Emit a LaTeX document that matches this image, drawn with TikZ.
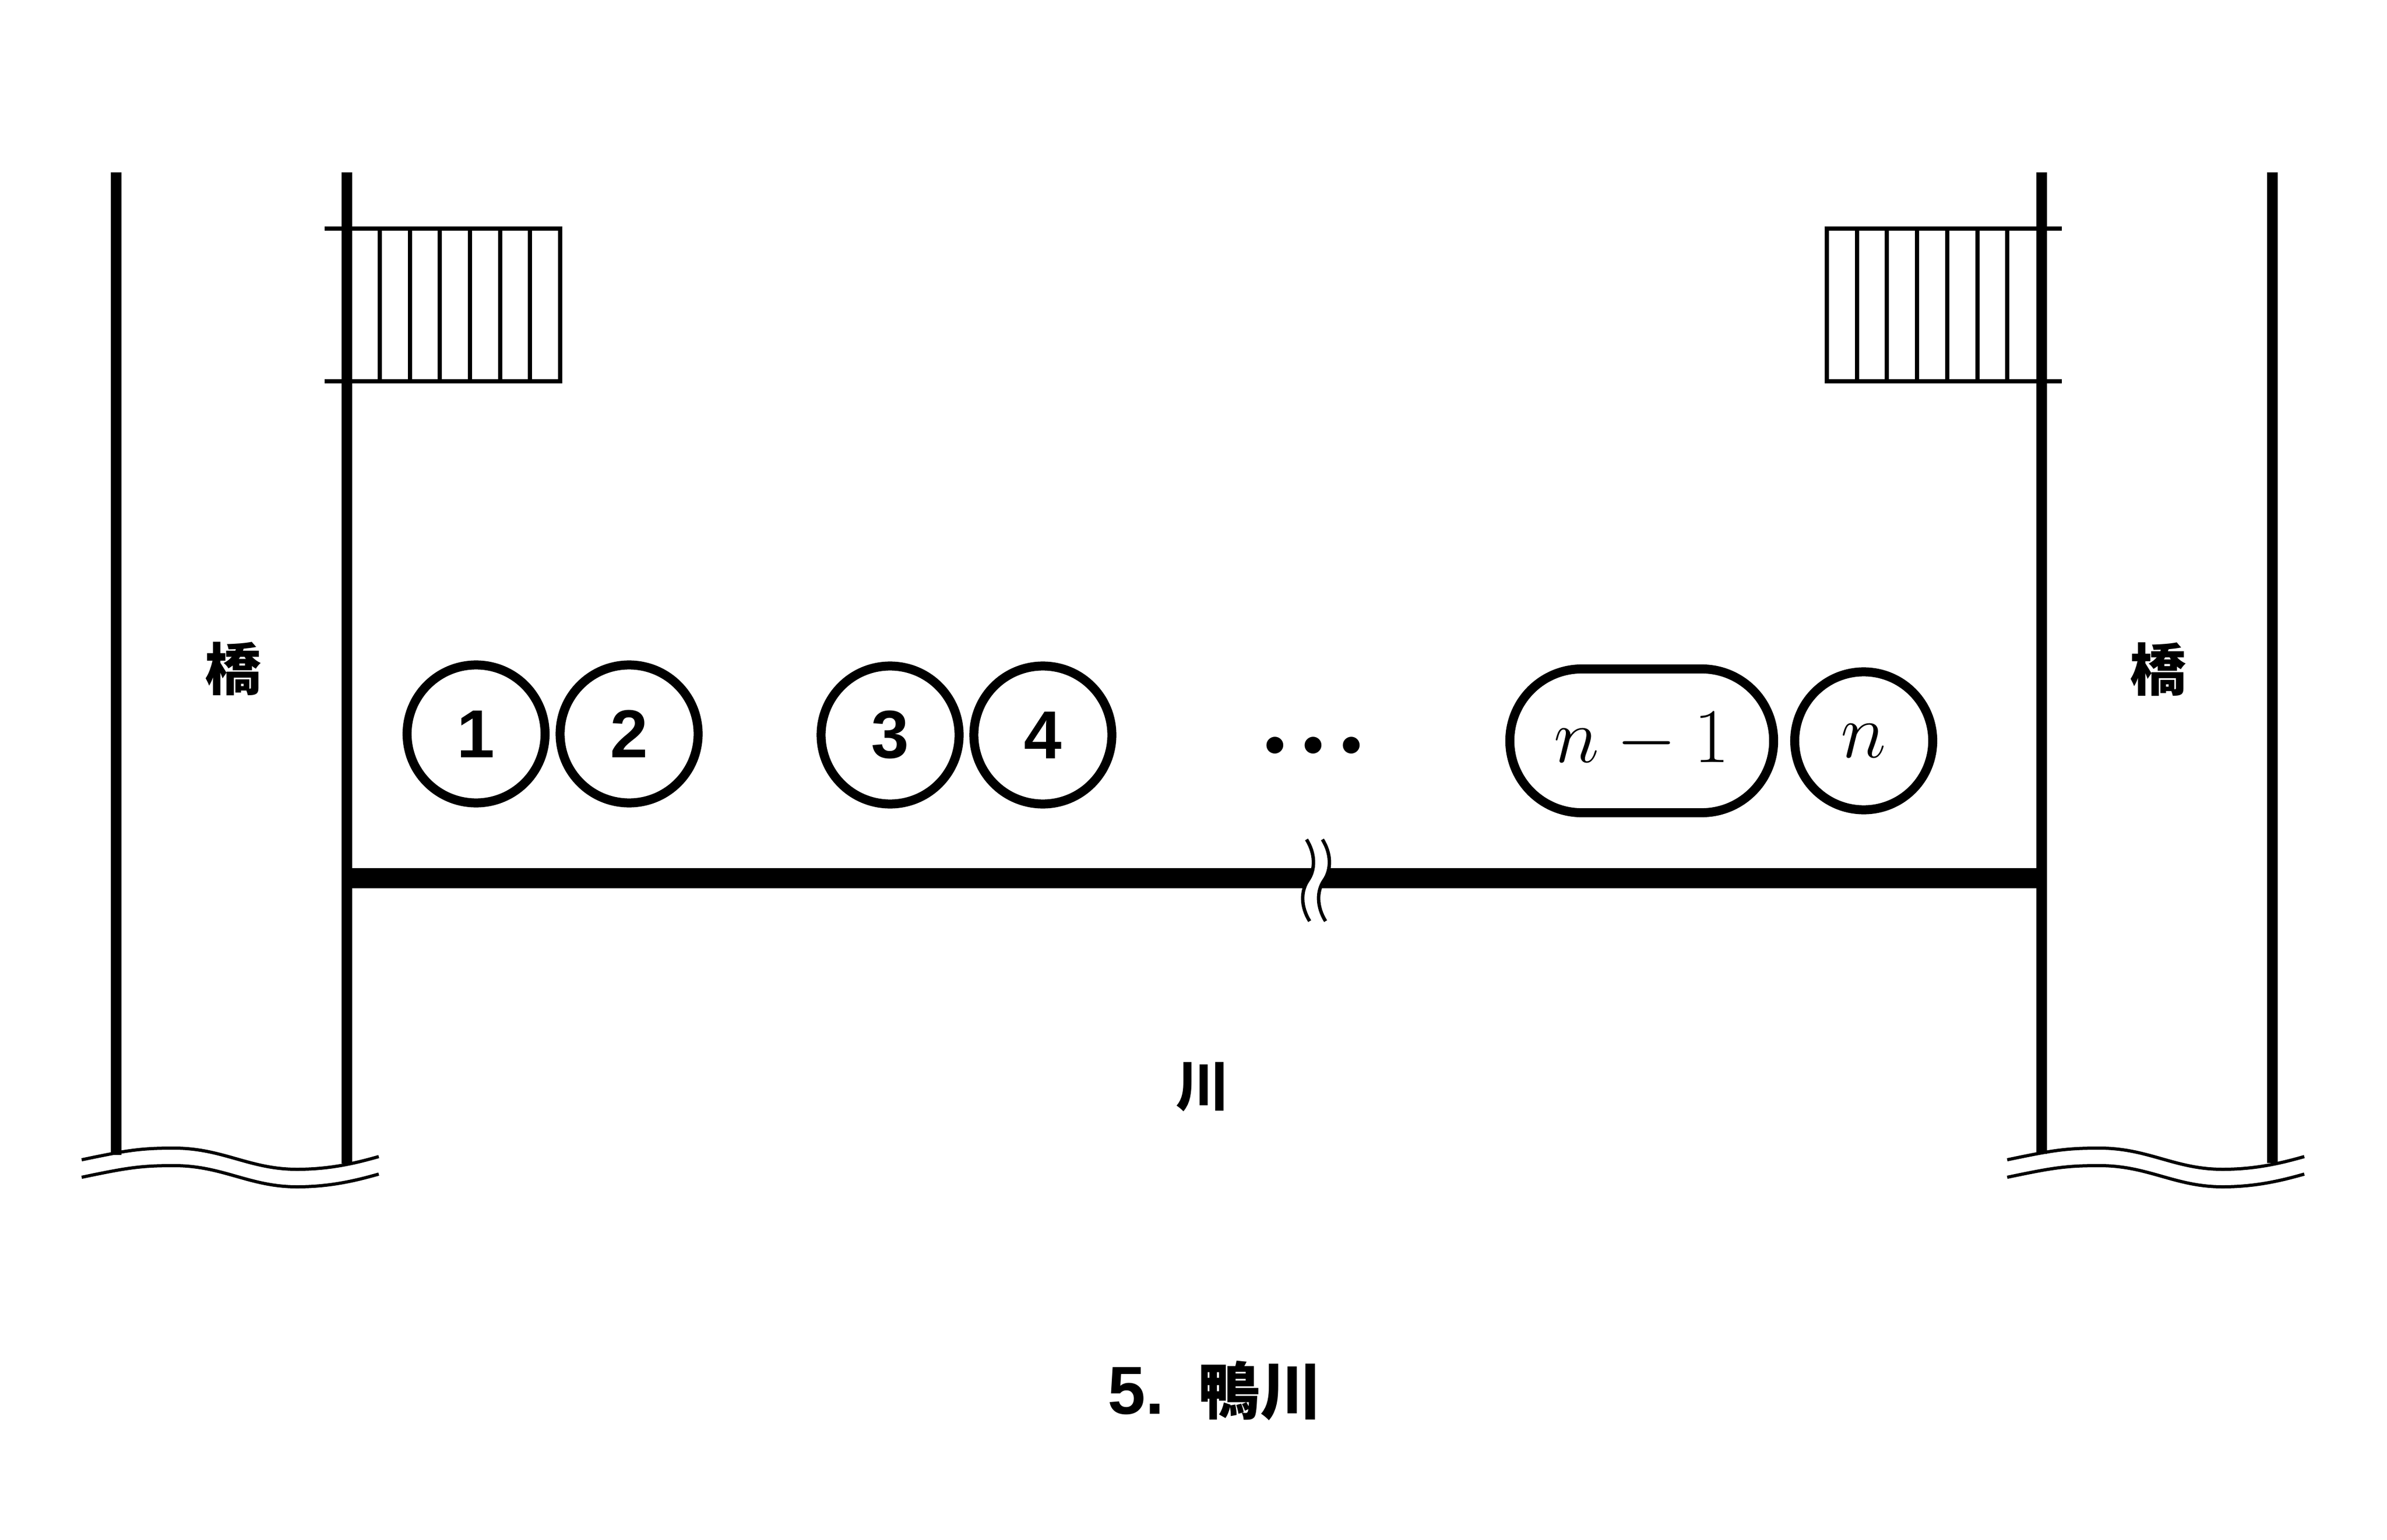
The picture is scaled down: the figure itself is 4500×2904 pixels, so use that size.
\RequirePackage{fix-cm}
\documentclass[tikz,border=0pt]{standalone}
\usepackage{fontspec}
\newfontfamily\cjk{Noto Sans CJK JP}
\newfontfamily\lat{Liberation Sans}
\usetikzlibrary{shapes.misc}
\tikzset{
  wall/.style={line width=0.2cm},
  riverbar/.style={line width=0.37cm},
  rail/.style={line width=0.08cm},
  wavy/.style={line width=0.06cm},
  brk/.style={line width=0.065cm},
  bead/.style={circle, draw, line width=0.17cm, minimum size=2.6cm, inner sep=0pt,
    font=\lat\bfseries\fontsize{36.4pt}{40pt}\selectfont},
  pill/.style={rounded rectangle, draw, line width=0.17cm, minimum width=4.97cm,
    minimum height=2.71cm, inner sep=0pt, font=\fontsize{41.5pt}{48pt}\selectfont},
  lbl/.style={inner sep=0pt, font=\cjk\bfseries\fontsize{30.2pt}{34pt}\selectfont},
}
\begin{document}
\begin{tikzpicture}[x=0.01cm, y=-0.01cm]
\useasboundingbox (0,0) rectangle (4500,2904);
% railings (stairs) left
\draw[rail] (612,431) -- (1056,431) -- (1056,719) -- (612,719);
\foreach \x in {715.8,772.5,829.2,885.9,942.6,999.3}
  \draw[rail] (\x,431) -- (\x,719);
% railings right
\draw[rail] (3887,431) -- (3444,431) -- (3444,719) -- (3887,719);
\foreach \x in {3500.7,3557.4,3614.1,3670.8,3727.5,3784.2}
  \draw[rail] (\x,431) -- (\x,719);
% walls
\draw[wall] (219,325) -- (219,2178);
\draw[wall] (654,325) -- (654,2194);
\draw[wall] (3849,325) -- (3849,2176);
\draw[wall] (4284,325) -- (4284,2193);
% river bar
\draw[riverbar] (654,1656) -- (3849,1656);
% break mark
\fill[white] (2463,1583) .. controls (2480,1610) and (2480,1640) .. (2466,1660)
  .. controls (2452,1680) and (2452,1710) .. (2469,1737) -- (2499,1737)
  .. controls (2482,1710) and (2482,1680) .. (2496,1660)
  .. controls (2510,1640) and (2510,1610) .. (2493,1583) -- cycle;
\foreach \dx in {0,30}
  \draw[brk, shift={(\dx,0)}] (2463,1583) .. controls (2480,1610) and (2480,1640) .. (2466,1660)
    .. controls (2452,1680) and (2452,1710) .. (2469,1737);
% cut-off waves
\foreach \dx in {0,3630}
  \foreach \dy in {0,33}
    \draw[wavy, shift={(\dx,\dy)}] (154,2187) .. controls (240,2169) and (265,2165) .. (328,2165)
      .. controls (420,2165) and (470,2205) .. (560,2205)
      .. controls (625,2205) and (675,2192) .. (714,2181);
% labels
\node[lbl] (bridgeL) at (440,1261) {橋};
\node[lbl] (bridgeR) at (4069,1262) {橋};
\node[lbl, font=\cjk\bfseries\fontsize{29pt}{34pt}\selectfont] (river) at (2267,2050) {川};
% people
\node[bead] (b1) at (897.5,1384) {1};
\node[bead] (b2) at (1186,1384) {2};
\node[bead] (b3) at (1678,1386) {3};
\node[bead] (b4) at (1966,1386) {4};
\node[inner sep=0pt, anchor=base, font=\fontsize{110pt}{120pt}\selectfont] (dots) at (2476,1421)
  {.\hspace{-0.25cm}.\hspace{-0.25cm}.};
\node[pill] (bn1) at (3095,1397) {$n-1$};
\node[bead, font=\fontsize{41.5pt}{48pt}\selectfont] (bn) at (3513.5,1397) {$n$};
% title
\node[inner sep=0pt, anchor=base west] (title) at (2088,2666)
  {{\lat\bfseries\fontsize{36.4pt}{40pt}\selectfont 5.}\hspace{0.63cm}{\cjk\bfseries\fontsize{33.3pt}{40pt}\selectfont 鴨川}};
\end{tikzpicture}
\end{document}
